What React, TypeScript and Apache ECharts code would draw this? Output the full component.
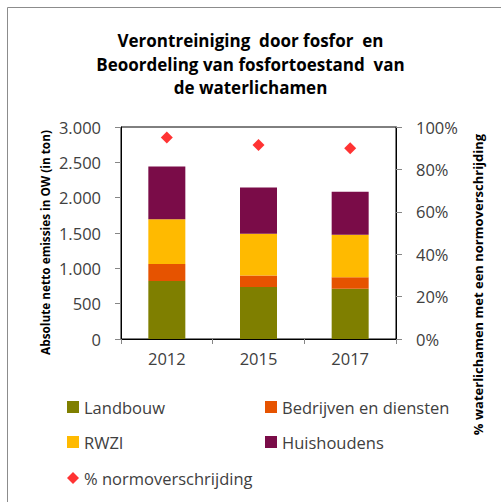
import React, { useEffect, useRef } from "react";
import * as echarts from "echarts";

const years = ["2012", "2015", "2017"];
const landbouw = [820, 735, 710];
const bedrijven = [240, 165, 165];
const rwzi = [635, 590, 600];
const huishoudens = [745, 655, 610];
const normPct = [95, 91.5, 90];

const leftTicks = { min: 0, max: 3000, interval: 500 };
const rightTicks = { min: 0, max: 100, interval: 20 };

const FONT = "'Open Sans', 'Noto Sans', sans-serif";
const TXT = "#404040";

function fmtThousands(v: number): string {
  if (v >= 1000) {
    const th = Math.floor(v / 1000);
    const rest = String(v % 1000).padStart(3, "0");
    return th + "." + rest;
  }
  return String(v);
}

export default function App() {
  const ref = useRef<HTMLDivElement>(null);
  useEffect(() => {
    if (!ref.current) return;
    const chart = echarts.init(ref.current, null, { renderer: "svg" });
    const legendItem = (name: string, left: number, cy: number, icon: string) => ({
      show: true,
      data: [{ name, icon }],
      left,
      top: cy - 10,
      padding: 0,
      itemWidth: 12,
      itemHeight: 12,
      itemGap: 0,
      selectedMode: false,
      textStyle: { fontFamily: FONT, fontSize: 16.5, color: TXT, lineHeight: 20, padding: [0, 0, 0, 0] },
    });
    chart.setOption({
      animation: false,
      backgroundColor: "#fff",
      graphic: [
        {
          type: "polyline",
          shape: { points: [[7.5, 510], [7.5, 7.5], [510, 7.5]] },
          style: { stroke: "#8c8c8c", lineWidth: 1, fill: "none" },
          silent: true,
        },
        {
          type: "text",
          x: 250.5,
          y: 64,
          style: {
            text: "Verontreiniging  door fosfor  en\nBeoordeling van fosfortoestand  van\nde waterlichamen",
            fontFamily: FONT,
            fontSize: 17,
            fontWeight: "bold",
            fill: "#000",
            lineHeight: 23.5,
            align: "center",
            verticalAlign: "middle",
          },
        },
        {
          type: "text",
          x: 45,
          y: 242.5,
          rotation: Math.PI / 2,
          style: {
            text: "Absolute netto emissies in OW (in ton)",
            fontFamily: FONT,
            fontSize: 11.8,
            fontWeight: "bold",
            fill: "#000",
            align: "center",
            verticalAlign: "middle",
          },
        },
        {
          type: "text",
          x: 478,
          y: 284.5,
          rotation: Math.PI / 2,
          style: {
            text: "% waterlichamen met een normoverschrijding",
            fontFamily: FONT,
            fontSize: 13,
            fontWeight: "bold",
            fill: "#000",
            align: "center",
            verticalAlign: "middle",
          },
        },
      ],
      legend: [
        legendItem("Landbouw", 67, 407, "rect"),
        legendItem("Bedrijven en diensten", 265, 407, "rect"),
        legendItem("RWZI", 67, 442, "rect"),
        legendItem("Huishoudens", 265, 442, "rect"),
        legendItem("% normoverschrijding", 67, 478, "diamond"),
      ],
      grid: {
        left: 121,
        top: 127,
        width: 275,
        height: 212,
        show: true,
        borderColor: "#000",
        borderWidth: 1,
        backgroundColor: "transparent",
      },
      xAxis: {
        type: "category",
        data: years,
        boundaryGap: true,
        axisLine: { show: true, lineStyle: { color: "#000", width: 1 } },
        axisTick: { show: true, length: 5, lineStyle: { color: "#868686" } },
        axisLabel: { fontFamily: FONT, fontSize: 16.5, color: TXT, margin: 11 },
      },
      yAxis: [
        {
          type: "value",
          min: leftTicks.min,
          max: leftTicks.max,
          interval: leftTicks.interval,
          splitLine: { show: false },
          axisLine: { show: true, lineStyle: { color: "#000", width: 1 } },
          axisTick: { show: true, length: 6, lineStyle: { color: "#868686" } },
          axisLabel: {
            fontFamily: FONT,
            fontSize: 16.5,
            color: TXT,
            margin: 20,
            formatter: (v: number) => fmtThousands(v),
          },
        },
        {
          type: "value",
          position: "right",
          min: rightTicks.min,
          max: rightTicks.max,
          interval: rightTicks.interval,
          splitLine: { show: false },
          axisLine: { show: true, lineStyle: { color: "#000", width: 1 } },
          axisTick: { show: true, length: 6, lineStyle: { color: "#868686" } },
          axisLabel: {
            fontFamily: FONT,
            fontSize: 16.5,
            color: TXT,
            margin: 20,
            formatter: (v: number) => v + "%",
          },
        },
      ],
      series: [
        { name: "Landbouw", type: "bar", stack: "t", data: landbouw, barWidth: 37, itemStyle: { color: "#7F7F00" } },
        { name: "Bedrijven en diensten", type: "bar", stack: "t", data: bedrijven, barWidth: 37, itemStyle: { color: "#E65300" } },
        { name: "RWZI", type: "bar", stack: "t", data: rwzi, barWidth: 37, itemStyle: { color: "#FFBA00" } },
        { name: "Huishoudens", type: "bar", stack: "t", data: huishoudens, barWidth: 37, itemStyle: { color: "#7A0C48" } },
        {
          name: "% normoverschrijding",
          type: "scatter",
          yAxisIndex: 1,
          data: normPct,
          symbol: "diamond",
          symbolSize: 12,
          itemStyle: { color: "#FF0000" },
        },
      ],
    });
    return () => chart.dispose();
  }, []);
  return (
    <div
      ref={ref}
      style={{ position: "fixed", left: 0, top: 0, width: 501, height: 502 }}
    />
  );
}
